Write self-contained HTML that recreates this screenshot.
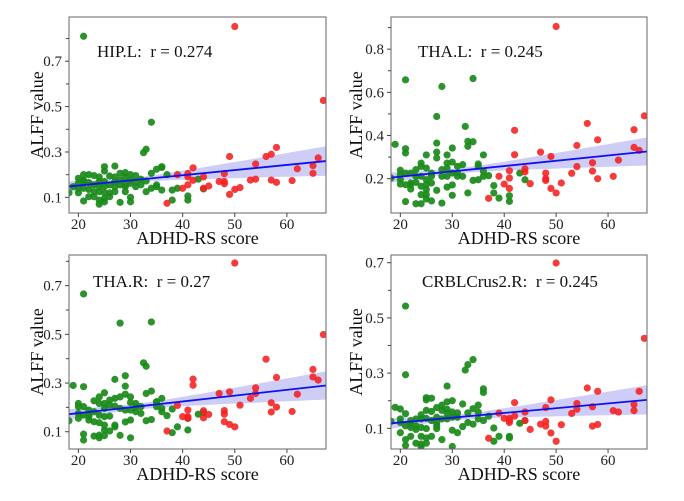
<!DOCTYPE html>
<html><head><meta charset="utf-8"><style>
html,body{margin:0;padding:0;background:#fff}
svg{display:block;font-family:"Liberation Serif",serif}
</style></head><body>
<svg id="c" width="684" height="501" viewBox="0 0 684 501"></svg>
<script>
const greenX=[18.2,19,20,20,20,20,21,21,21,21,21,21,22,22,22,22,23,23,23,23,24,24,24,24,24,24,25,25,25,25,25,25,25,26,26,26,26,27,27,27,27,27,28,28,28,28,29,29,29,29,29,30,30,30,30,30,31,31,31,32,32,32.5,33,33,33,34,34,34,35,35,35,36,36,36,37,38,38,39,41,41,43,44];
const redX=[37,39,40,41,41,41,42,42,44,44,45,47,48,48,48,49,49,50,50,51,53,54,54,56,57,57,58,58,61,62,65,65,66,67];
const hipGreenY=[0.12,0.147,0.184,0.162,0.14,0.12,0.81,0.2,0.17,0.14,0.084,0.176,0.2,0.165,0.135,0.103,0.196,0.155,0.103,0.125,0.19,0.147,0.125,0.088,0.07,0.17,0.235,0.216,0.17,0.147,0.12,0.095,0.08,0.194,0.155,0.12,0.103,0.238,0.17,0.147,0.125,0.19,0.206,0.155,0.078,0.176,0.209,0.188,0.155,0.147,0.125,0.2,0.162,0.1,0.08,0.176,0.196,0.147,0.17,0.18,0.155,0.297,0.312,0.125,0.172,0.431,0.206,0.14,0.224,0.155,0.147,0.235,0.132,0.232,0.2,0.132,0.088,0.14,0.106,0.088,0.18,0.137];
const hipRedY=[0.074,0.2,0.14,0.155,0.19,0.205,0.23,0.175,0.19,0.14,0.15,0.17,0.16,0.205,0.17,0.28,0.113,0.853,0.135,0.143,0.176,0.247,0.18,0.28,0.29,0.176,0.32,0.166,0.174,0.226,0.24,0.206,0.274,0.527];
const thalGreenY=[0.203,0.359,0.239,0.219,0.175,0.195,0.658,0.339,0.319,0.226,0.172,0.094,0.226,0.18,0.152,0.172,0.242,0.084,0.183,0.211,0.272,0.257,0.165,0.126,0.084,0.211,0.31,0.249,0.195,0.172,0.149,0.126,0.106,0.226,0.211,0.18,0.097,0.488,0.365,0.323,0.296,0.146,0.627,0.211,0.242,0.087,0.31,0.272,0.249,0.211,0.161,0.342,0.277,0.226,0.171,0.123,0.257,0.226,0.211,0.265,0.211,0.442,0.373,0.35,0.134,0.664,0.371,0.192,0.268,0.257,0.195,0.31,0.211,0.234,0.214,0.168,0.134,0.11,0.121,0.095,0.226,0.195];
const thalRedY=[0.109,0.211,0.175,0.155,0.237,0.203,0.424,0.311,0.231,0.246,0.177,0.323,0.226,0.192,0.2,0.303,0.155,0.905,0.134,0.18,0.225,0.354,0.256,0.456,0.274,0.235,0.38,0.2,0.211,0.286,0.427,0.345,0.331,0.491];
const tharGreenY=[0.145,0.29,0.216,0.203,0.175,0.155,0.666,0.285,0.203,0.168,0.09,0.066,0.189,0.166,0.148,0.162,0.227,0.182,0.141,0.082,0.243,0.216,0.168,0.137,0.075,0.086,0.26,0.216,0.196,0.162,0.127,0.107,0.084,0.23,0.209,0.164,0.103,0.315,0.237,0.205,0.127,0.12,0.546,0.243,0.196,0.085,0.33,0.287,0.254,0.189,0.14,0.243,0.22,0.189,0.148,0.075,0.2,0.182,0.216,0.175,0.203,0.383,0.369,0.257,0.145,0.551,0.267,0.15,0.223,0.203,0.223,0.237,0.196,0.182,0.166,0.193,0.096,0.12,0.155,0.107,0.172,0.178];
const tharRedY=[0.103,0.208,0.162,0.189,0.162,0.155,0.316,0.291,0.186,0.157,0.171,0.257,0.187,0.141,0.172,0.264,0.13,0.793,0.12,0.209,0.237,0.28,0.257,0.398,0.219,0.181,0.323,0.201,0.183,0.254,0.356,0.325,0.312,0.499];
const crblGreenY=[0.125,0.176,0.17,0.134,0.121,0.084,0.543,0.294,0.153,0.109,0.059,0.038,0.128,0.115,0.103,0.071,0.134,0.109,0.046,0.096,0.149,0.134,0.103,0.071,0.034,0.043,0.211,0.203,0.165,0.136,0.099,0.065,0.046,0.209,0.161,0.128,0.071,0.175,0.14,0.121,0.109,0.099,0.184,0.165,0.134,0.059,0.253,0.196,0.169,0.153,0.134,0.2,0.159,0.14,0.093,0.034,0.156,0.14,0.084,0.188,0.106,0.311,0.331,0.156,0.121,0.349,0.171,0.115,0.184,0.134,0.159,0.243,0.23,0.128,0.144,0.101,0.053,0.071,0.071,0.065,0.118,0.128];
const crblRedY=[0.064,0.155,0.136,0.121,0.136,0.128,0.193,0.144,0.159,0.128,0.096,0.115,0.175,0.125,0.108,0.203,0.083,0.699,0.053,0.113,0.154,0.19,0.169,0.246,0.178,0.108,0.234,0.114,0.164,0.159,0.186,0.164,0.234,0.426];
const panelLabels=["HIP.L:  r = 0.274","THA.L:  r = 0.245","THA.R:  r = 0.27","CRBLCrus2.R:  r = 0.245"];
const fitStartY=[0.148,0.205,0.172,0.118];
const fitEndY=[0.26,0.326,0.29,0.203];
const bandMin=[0.01,0.012,0.012,0.01];
const bandEnd=[0.065,0.065,0.058,0.053];
const xTickLabels=["20","30","40","50","60"];
const xTicks=[20,30,40,50,60];
const yTickSets=[[0.1,0.3,0.5,0.7],[0.2,0.4,0.6,0.8],[0.1,0.3,0.5,0.7],[0.1,0.3,0.5,0.7]];
const yMinorSets=[[0.2,0.4,0.6,0.8],[0.3,0.5,0.7,0.9],[0.2,0.4,0.6,0.8],[0.2,0.4,0.6]];

const greenSets=[hipGreenY,thalGreenY,tharGreenY,crblGreenY];
const redSets=[hipRedY,thalRedY,tharRedY,crblRedY];
const names=["hip-l","tha-l","tha-r","crbl-crus2-r"];
// layout
const layout=[
 {l:69,r:326,t:17,b:213,y0:0.031,y1:0.895,lx:97,ly:57,ytx:37},
 {l:391,r:647,t:17,b:213,y0:0.041,y1:0.949,lx:418,ly:57,ytx:356},
 {l:69,r:326,t:255,b:449,y0:0.029,y1:0.826,lx:93,ly:287,ytx:37},
 {l:391,r:647,t:255,b:449,y0:0.025,y1:0.728,lx:422,ly:287,ytx:356}
];
const X0=18.2,X1=67.5;
const svg=document.getElementById('c');
const NS="http://www.w3.org/2000/svg";
function mk(tag,attrs,parent){const e=document.createElementNS(NS,tag);for(const k in attrs)e.setAttribute(k,attrs[k]);parent.appendChild(e);return e;}
layout.forEach((L,i)=>{
 const g=mk('g',{},svg);
 
 
 const sx=v=>L.l+(v-X0)/(X1-X0)*(L.r-L.l);
 const sy=v=>L.b-(v-L.y0)/(L.y1-L.y0)*(L.b-L.t);
 const clipId='clip'+i;
 const cp=mk('clipPath',{id:clipId},g);
 mk('rect',{x:L.l,y:L.t,width:L.r-L.l,height:L.b-L.t},cp);
 const plot=mk('g',{'clip-path':'url(#'+clipId+')'},g);
 
 
 // band
 const xm=30,c=(bandEnd[i]**2-bandMin[i]**2)/((X1-xm)**2);
 const fit=x=>fitStartY[i]+(fitEndY[i]-fitStartY[i])*(x-X0)/(X1-X0);
 const hw=x=>Math.sqrt(bandMin[i]**2+c*(x-xm)**2);
 let up=[],lo=[];
 for(let k=0;k<=40;k++){const x=X0+(X1-X0)*k/40;up.push(sx(x).toFixed(1)+','+sy(fit(x)+hw(x)).toFixed(1));lo.unshift(sx(x).toFixed(1)+','+sy(fit(x)-hw(x)).toFixed(1));}
 const band=mk('polygon',{points:up.concat(lo).join(' '),fill:'#c8c8f5',opacity:'0.9'},plot);
 
 
 const gs=greenSets[i],rs=redSets[i];
 greenX.forEach((x,j)=>{const p=mk('circle',{cx:sx(x),cy:sy(gs[j]),r:3.6,fill:'#1a8a1a','fill-opacity':'0.92'},plot);
  
  });
 redX.forEach((x,j)=>{const p=mk('circle',{cx:sx(x),cy:sy(rs[j]),r:3.6,fill:'#f52020','fill-opacity':'0.88'},plot);
  
  });
 const ln=mk('line',{x1:sx(X0),y1:sy(fit(X0)),x2:sx(X1),y2:sy(fit(X1)),stroke:'#1010ee','stroke-width':1.8},plot);
 
 
 const fr=mk('rect',{x:L.l,y:L.t,width:L.r-L.l,height:L.b-L.t,fill:'none',stroke:'#666','stroke-width':1},g);
 
 
 xTicks.forEach((v,k)=>{mk('line',{x1:sx(v),x2:sx(v),y1:L.b,y2:L.b+4,stroke:'#444'},g);
  const t=mk('text',{x:sx(v),y:L.b+16,'text-anchor':'middle','font-size':15,fill:'#222'},g);t.textContent=xTickLabels[k];
  
  });
 yTickSets[i].forEach(v=>{mk('line',{x1:L.l-4,x2:L.l,y1:sy(v),y2:sy(v),stroke:'#444'},g);
  const t=mk('text',{x:L.l-7,y:sy(v)+5,'text-anchor':'end','font-size':15,fill:'#222'},g);t.textContent=v.toFixed(1);
  
  });
 yMinorSets[i].forEach(v=>{if(v<L.y1)mk('line',{x1:L.l-3,x2:L.l,y1:sy(v),y2:sy(v),stroke:'#444'},g);});
 const xt=mk('text',{x:(L.l+L.r)/2,y:L.b+31,'text-anchor':'middle','font-size':18,fill:'#111'},g);xt.textContent='ADHD-RS score';
 
 
 const cy=(L.t+L.b)/2;
 const yt=mk('text',{x:L.ytx,y:cy,'text-anchor':'middle','font-size':18,fill:'#111',transform:'rotate(-90 '+L.ytx+' '+cy+') translate(0 6)'},g);yt.textContent='ALFF value';
 
 
 const lb=mk('text',{x:L.lx,y:L.ly,'font-size':17,fill:'#111','xml:space':'preserve'},g);lb.textContent=panelLabels[i];
 lb.style.whiteSpace='pre';
 
 
});
</script>
</body></html>
